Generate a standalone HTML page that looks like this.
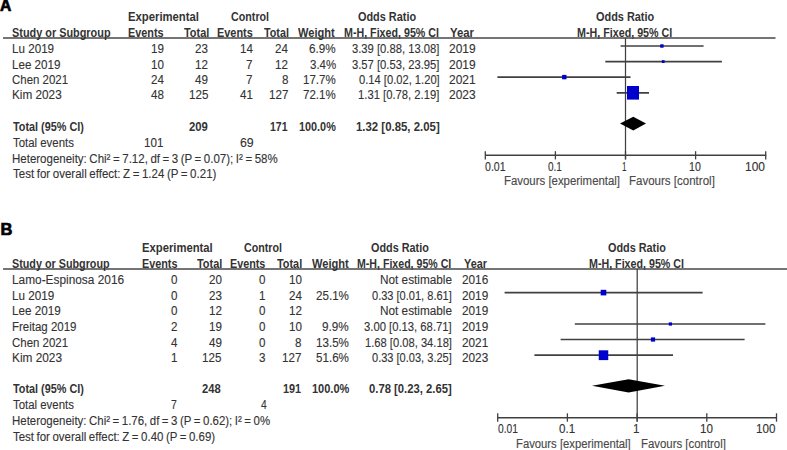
<!DOCTYPE html>
<html><head><meta charset="utf-8"><style>
html,body{margin:0;padding:0;background:#fff;}
body{width:787px;height:450px;position:relative;overflow:hidden;font-family:"Liberation Sans",sans-serif;}
.t{position:absolute;white-space:nowrap;line-height:15px;font-size:12.5px;color:#333333;transform-origin:0 0;-webkit-text-stroke:0.12px #333333;}
.l{position:absolute;}
</style></head><body>
<svg class="l" style="left:0;top:0" width="787" height="450">
<line x1="3.00" y1="38.00" x2="775.50" y2="38.00" stroke="#474747" stroke-width="1.7"/>
<line x1="625.50" y1="38.00" x2="625.50" y2="159.50" stroke="#404040" stroke-width="1.25"/>
<line x1="485.00" y1="155.30" x2="766.20" y2="155.30" stroke="#404040" stroke-width="1.5"/>
<line x1="485.30" y1="151.20" x2="485.30" y2="159.40" stroke="#404040" stroke-width="1.3"/>
<line x1="555.40" y1="151.20" x2="555.40" y2="159.40" stroke="#404040" stroke-width="1.3"/>
<line x1="625.50" y1="151.20" x2="625.50" y2="159.40" stroke="#404040" stroke-width="1.3"/>
<line x1="695.60" y1="151.20" x2="695.60" y2="159.40" stroke="#404040" stroke-width="1.3"/>
<line x1="765.70" y1="151.20" x2="765.70" y2="159.40" stroke="#404040" stroke-width="1.3"/>
<line x1="620.60" y1="46.00" x2="703.60" y2="46.00" stroke="#404040" stroke-width="1.7"/>
<line x1="605.30" y1="61.60" x2="721.90" y2="61.60" stroke="#404040" stroke-width="1.7"/>
<line x1="497.40" y1="77.10" x2="630.50" y2="77.10" stroke="#404040" stroke-width="1.7"/>
<line x1="616.70" y1="92.80" x2="649.00" y2="92.80" stroke="#404040" stroke-width="1.7"/>
<rect x="660.20" y="44.30" width="3.40" height="3.40" fill="#0000cc"/>
<rect x="661.80" y="60.20" width="2.80" height="2.80" fill="#0000cc"/>
<rect x="562.10" y="74.90" width="4.40" height="4.40" fill="#0000cc"/>
<rect x="627.00" y="86.00" width="12.00" height="13.60" fill="#0000cc"/>
<polygon points="620.00,123.6 633.30,116.75 646.00,123.6 633.30,130.45" fill="#000"/>
<line x1="3.00" y1="269.00" x2="787.00" y2="269.00" stroke="#474747" stroke-width="1.7"/>
<line x1="637.20" y1="269.10" x2="637.20" y2="421.60" stroke="#404040" stroke-width="1.25"/>
<line x1="497.50" y1="417.70" x2="776.60" y2="417.70" stroke="#404040" stroke-width="1.5"/>
<line x1="497.70" y1="413.30" x2="497.70" y2="421.70" stroke="#404040" stroke-width="1.3"/>
<line x1="567.40" y1="413.30" x2="567.40" y2="421.70" stroke="#404040" stroke-width="1.3"/>
<line x1="637.10" y1="413.30" x2="637.10" y2="421.70" stroke="#404040" stroke-width="1.3"/>
<line x1="706.80" y1="413.30" x2="706.80" y2="421.70" stroke="#404040" stroke-width="1.3"/>
<line x1="776.50" y1="413.30" x2="776.50" y2="421.70" stroke="#404040" stroke-width="1.3"/>
<line x1="504.60" y1="292.60" x2="702.60" y2="292.60" stroke="#404040" stroke-width="1.7"/>
<line x1="574.80" y1="324.00" x2="765.40" y2="324.00" stroke="#404040" stroke-width="1.7"/>
<line x1="560.60" y1="339.50" x2="744.60" y2="339.50" stroke="#404040" stroke-width="1.7"/>
<line x1="534.40" y1="355.20" x2="673.00" y2="355.20" stroke="#404040" stroke-width="1.7"/>
<rect x="600.70" y="289.80" width="5.60" height="5.60" fill="#0000cc"/>
<rect x="668.80" y="322.40" width="3.20" height="3.20" fill="#0000cc"/>
<rect x="650.90" y="337.40" width="4.20" height="4.20" fill="#0000cc"/>
<rect x="598.75" y="350.30" width="9.50" height="9.80" fill="#0000cc"/>
<polygon points="592.00,385.8 628.60,379.2 665.00,385.8 628.60,392.40000000000003" fill="#000"/>
</svg>
<div class="t" style="left:0.30px;top:-2.39px;font-weight:bold;font-size:16.5px;color:#000;transform:scaleX(0.9500);-webkit-text-stroke:0.7px #000">A</div>
<div class="t" style="left:128.20px;top:10.30px;font-weight:bold;-webkit-text-stroke:0;transform:scaleX(0.9039);">Experimental</div>
<div class="t" style="left:230.50px;top:10.30px;font-weight:bold;-webkit-text-stroke:0;transform:scaleX(0.8568);">Control</div>
<div class="t" style="left:358.00px;top:10.30px;font-weight:bold;-webkit-text-stroke:0;transform:scaleX(0.8712);">Odds Ratio</div>
<div class="t" style="left:595.70px;top:10.30px;font-weight:bold;-webkit-text-stroke:0;transform:scaleX(0.8727);">Odds Ratio</div>
<div class="t" style="left:11.63px;top:25.90px;font-weight:bold;-webkit-text-stroke:0;transform:scaleX(0.8705);">Study or Subgroup</div>
<div class="t" style="left:128.23px;top:25.90px;font-weight:bold;-webkit-text-stroke:0;transform:scaleX(0.8675);">Events</div>
<div class="t" style="left:183.50px;top:25.90px;font-weight:bold;-webkit-text-stroke:0;transform:scaleX(0.8750);">Total</div>
<div class="t" style="left:216.93px;top:25.90px;font-weight:bold;-webkit-text-stroke:0;transform:scaleX(0.8725);">Events</div>
<div class="t" style="left:264.20px;top:25.90px;font-weight:bold;-webkit-text-stroke:0;transform:scaleX(0.8607);">Total</div>
<div class="t" style="left:298.30px;top:25.90px;font-weight:bold;-webkit-text-stroke:0;transform:scaleX(0.8854);">Weight</div>
<div class="t" style="left:343.95px;top:25.90px;font-weight:bold;-webkit-text-stroke:0;transform:scaleX(0.8545);">M-H, Fixed, 95% CI</div>
<div class="t" style="left:450.00px;top:25.90px;font-weight:bold;-webkit-text-stroke:0;transform:scaleX(0.9077);">Year</div>
<div class="t" style="left:577.14px;top:25.90px;font-weight:bold;-webkit-text-stroke:0;transform:scaleX(0.8573);">M-H, Fixed, 95% CI</div>
<div class="t" style="left:12.07px;top:42.00px;transform:scaleX(0.9318);">Lu 2019</div>
<div class="t" style="left:151.38px;top:42.00px;transform:scaleX(0.9300);">19</div>
<div class="t" style="left:195.18px;top:42.00px;transform:scaleX(0.9300);">23</div>
<div class="t" style="left:239.68px;top:42.00px;transform:scaleX(0.9300);">14</div>
<div class="t" style="left:275.18px;top:42.00px;transform:scaleX(0.9300);">24</div>
<div class="t" style="left:309.27px;top:42.00px;transform:scaleX(0.9333);">6.9%</div>
<div class="t" style="left:351.70px;top:42.00px;transform:scaleX(0.8990);">3.39 [0.88, 13.08]</div>
<div class="t" style="left:448.94px;top:42.00px;transform:scaleX(0.9577);">2019</div>
<div class="t" style="left:12.07px;top:57.50px;transform:scaleX(0.9294);">Lee 2019</div>
<div class="t" style="left:151.38px;top:57.50px;transform:scaleX(0.9300);">10</div>
<div class="t" style="left:195.18px;top:57.50px;transform:scaleX(0.9300);">12</div>
<div class="t" style="left:246.19px;top:57.50px;transform:scaleX(0.9300);">7</div>
<div class="t" style="left:275.18px;top:57.50px;transform:scaleX(0.9300);">12</div>
<div class="t" style="left:309.68px;top:57.50px;transform:scaleX(0.9185);">3.4%</div>
<div class="t" style="left:351.70px;top:57.50px;transform:scaleX(0.8990);">3.57 [0.53, 23.95]</div>
<div class="t" style="left:448.94px;top:57.50px;transform:scaleX(0.9577);">2019</div>
<div class="t" style="left:12.08px;top:72.90px;transform:scaleX(0.9167);">Chen 2021</div>
<div class="t" style="left:151.38px;top:72.90px;transform:scaleX(0.9300);">24</div>
<div class="t" style="left:195.18px;top:72.90px;transform:scaleX(0.9300);">49</div>
<div class="t" style="left:246.19px;top:72.90px;transform:scaleX(0.9300);">7</div>
<div class="t" style="left:281.69px;top:72.90px;transform:scaleX(0.9300);">8</div>
<div class="t" style="left:303.18px;top:72.90px;transform:scaleX(0.9206);">17.7%</div>
<div class="t" style="left:358.50px;top:72.90px;transform:scaleX(0.8933);">0.14 [0.02, 1.20]</div>
<div class="t" style="left:448.94px;top:72.90px;transform:scaleX(0.9577);">2021</div>
<div class="t" style="left:12.06px;top:88.40px;transform:scaleX(0.9412);">Kim 2023</div>
<div class="t" style="left:151.38px;top:88.40px;transform:scaleX(0.9300);">48</div>
<div class="t" style="left:188.67px;top:88.40px;transform:scaleX(0.9300);">125</div>
<div class="t" style="left:239.68px;top:88.40px;transform:scaleX(0.9300);">41</div>
<div class="t" style="left:268.67px;top:88.40px;transform:scaleX(0.9300);">127</div>
<div class="t" style="left:303.18px;top:88.40px;transform:scaleX(0.9206);">72.1%</div>
<div class="t" style="left:357.90px;top:88.40px;transform:scaleX(0.9000);">1.31 [0.78, 2.19]</div>
<div class="t" style="left:448.94px;top:88.40px;transform:scaleX(0.9577);">2023</div>
<div class="t" style="left:12.80px;top:119.50px;font-weight:bold;-webkit-text-stroke:0;transform:scaleX(0.8667);">Total (95% CI)</div>
<div class="t" style="left:189.00px;top:119.50px;font-weight:bold;-webkit-text-stroke:0;transform:scaleX(0.9048);">209</div>
<div class="t" style="left:270.16px;top:119.50px;font-weight:bold;-webkit-text-stroke:0;transform:scaleX(0.8400);">171</div>
<div class="t" style="left:298.93px;top:119.50px;font-weight:bold;-webkit-text-stroke:0;transform:scaleX(0.8683);">100.0%</div>
<div class="t" style="left:355.79px;top:119.50px;font-weight:bold;-webkit-text-stroke:0;transform:scaleX(0.9122);">1.32 [0.85, 2.05]</div>
<div class="t" style="left:13.00px;top:135.80px;transform:scaleX(0.9121);">Total events</div>
<div class="t" style="left:143.97px;top:135.80px;transform:scaleX(0.9300);">101</div>
<div class="t" style="left:239.52px;top:135.80px;transform:scaleX(0.9846);">69</div>
<div class="t" style="left:12.08px;top:152.10px;transform:scaleX(0.9201);word-spacing:-0.7px;">Heterogeneity: Chi² = 7.12, df = 3 (P = 0.07); I² = 58%</div>
<div class="t" style="left:13.00px;top:167.20px;transform:scaleX(0.9227);word-spacing:-0.7px;">Test for overall effect: Z = 1.24 (P = 0.21)</div>
<div class="t" style="left:485.10px;top:159.50px;transform:scaleX(0.8458);">0.01</div>
<div class="t" style="left:547.90px;top:159.50px;transform:scaleX(0.8000);">0.1</div>
<div class="t" style="left:621.85px;top:159.50px;transform:scaleX(0.6500);">1</div>
<div class="t" style="left:689.15px;top:159.50px;transform:scaleX(0.8462);">10</div>
<div class="t" style="left:745.25px;top:159.50px;transform:scaleX(0.9550);">100</div>
<div class="t" style="left:504.09px;top:174.30px;color:#4a4a4a;transform:scaleX(0.9127);-webkit-text-stroke:0.15px #4a4a4a">Favours [experimental]</div>
<div class="t" style="left:628.58px;top:174.30px;color:#4a4a4a;transform:scaleX(0.9220);-webkit-text-stroke:0.15px #4a4a4a">Favours [control]</div>
<div class="t" style="left:0.40px;top:221.81px;font-weight:bold;font-size:16.5px;color:#000;transform:scaleX(1.0000);-webkit-text-stroke:0.7px #000">B</div>
<div class="t" style="left:141.80px;top:241.40px;font-weight:bold;-webkit-text-stroke:0;transform:scaleX(0.9000);">Experimental</div>
<div class="t" style="left:243.60px;top:241.40px;font-weight:bold;-webkit-text-stroke:0;transform:scaleX(0.8545);">Control</div>
<div class="t" style="left:371.30px;top:241.40px;font-weight:bold;-webkit-text-stroke:0;transform:scaleX(0.8667);">Odds Ratio</div>
<div class="t" style="left:608.00px;top:241.40px;font-weight:bold;-webkit-text-stroke:0;transform:scaleX(0.8682);">Odds Ratio</div>
<div class="t" style="left:11.74px;top:257.10px;font-weight:bold;-webkit-text-stroke:0;transform:scaleX(0.8625);">Study or Subgroup</div>
<div class="t" style="left:141.83px;top:257.10px;font-weight:bold;-webkit-text-stroke:0;transform:scaleX(0.8650);">Events</div>
<div class="t" style="left:197.00px;top:257.10px;font-weight:bold;-webkit-text-stroke:0;transform:scaleX(0.8750);">Total</div>
<div class="t" style="left:230.14px;top:257.10px;font-weight:bold;-webkit-text-stroke:0;transform:scaleX(0.8625);">Events</div>
<div class="t" style="left:277.14px;top:257.10px;font-weight:bold;-webkit-text-stroke:0;transform:scaleX(0.8700);">Total</div>
<div class="t" style="left:311.60px;top:257.10px;font-weight:bold;-webkit-text-stroke:0;transform:scaleX(0.8878);">Weight</div>
<div class="t" style="left:357.25px;top:257.10px;font-weight:bold;-webkit-text-stroke:0;transform:scaleX(0.8482);">M-H, Fixed, 95% CI</div>
<div class="t" style="left:463.60px;top:257.10px;font-weight:bold;-webkit-text-stroke:0;transform:scaleX(0.8692);">Year</div>
<div class="t" style="left:589.15px;top:257.10px;font-weight:bold;-webkit-text-stroke:0;transform:scaleX(0.8545);">M-H, Fixed, 95% CI</div>
<div class="t" style="left:11.85px;top:272.90px;transform:scaleX(0.9487);">Lamo-Espinosa 2016</div>
<div class="t" style="left:171.29px;top:272.90px;transform:scaleX(0.9300);">0</div>
<div class="t" style="left:208.58px;top:272.90px;transform:scaleX(0.9300);">20</div>
<div class="t" style="left:259.49px;top:272.90px;transform:scaleX(0.9300);">0</div>
<div class="t" style="left:288.58px;top:272.90px;transform:scaleX(0.9300);">10</div>
<div class="t" style="left:379.96px;top:272.90px;transform:scaleX(0.9427);">Not estimable</div>
<div class="t" style="left:461.56px;top:272.90px;transform:scaleX(0.9423);">2016</div>
<div class="t" style="left:11.86px;top:288.70px;transform:scaleX(0.9364);">Lu 2019</div>
<div class="t" style="left:171.29px;top:288.70px;transform:scaleX(0.9300);">0</div>
<div class="t" style="left:208.58px;top:288.70px;transform:scaleX(0.9300);">23</div>
<div class="t" style="left:259.49px;top:288.70px;transform:scaleX(0.9300);">1</div>
<div class="t" style="left:288.58px;top:288.70px;transform:scaleX(0.9300);">24</div>
<div class="t" style="left:315.67px;top:288.70px;transform:scaleX(0.9294);">25.1%</div>
<div class="t" style="left:372.10px;top:288.70px;transform:scaleX(0.8833);">0.33 [0.01, 8.61]</div>
<div class="t" style="left:461.56px;top:288.70px;transform:scaleX(0.9423);">2019</div>
<div class="t" style="left:11.87px;top:304.30px;transform:scaleX(0.9333);">Lee 2019</div>
<div class="t" style="left:171.29px;top:304.30px;transform:scaleX(0.9300);">0</div>
<div class="t" style="left:208.58px;top:304.30px;transform:scaleX(0.9300);">12</div>
<div class="t" style="left:259.49px;top:304.30px;transform:scaleX(0.9300);">0</div>
<div class="t" style="left:288.58px;top:304.30px;transform:scaleX(0.9300);">12</div>
<div class="t" style="left:379.96px;top:304.30px;transform:scaleX(0.9427);">Not estimable</div>
<div class="t" style="left:461.56px;top:304.30px;transform:scaleX(0.9423);">2019</div>
<div class="t" style="left:11.88px;top:320.00px;transform:scaleX(0.9188);">Freitag 2019</div>
<div class="t" style="left:171.29px;top:320.00px;transform:scaleX(0.9300);">2</div>
<div class="t" style="left:208.58px;top:320.00px;transform:scaleX(0.9300);">19</div>
<div class="t" style="left:259.49px;top:320.00px;transform:scaleX(0.9300);">0</div>
<div class="t" style="left:288.58px;top:320.00px;transform:scaleX(0.9300);">10</div>
<div class="t" style="left:321.96px;top:320.00px;transform:scaleX(0.9370);">9.9%</div>
<div class="t" style="left:364.20px;top:320.00px;transform:scaleX(0.9010);">3.00 [0.13, 68.71]</div>
<div class="t" style="left:461.56px;top:320.00px;transform:scaleX(0.9423);">2019</div>
<div class="t" style="left:11.88px;top:335.70px;transform:scaleX(0.9167);">Chen 2021</div>
<div class="t" style="left:171.29px;top:335.70px;transform:scaleX(0.9300);">4</div>
<div class="t" style="left:208.58px;top:335.70px;transform:scaleX(0.9300);">49</div>
<div class="t" style="left:259.49px;top:335.70px;transform:scaleX(0.9300);">0</div>
<div class="t" style="left:295.09px;top:335.70px;transform:scaleX(0.9300);">8</div>
<div class="t" style="left:315.67px;top:335.70px;transform:scaleX(0.9294);">13.5%</div>
<div class="t" style="left:364.91px;top:335.70px;transform:scaleX(0.8938);">1.68 [0.08, 34.18]</div>
<div class="t" style="left:461.56px;top:335.70px;transform:scaleX(0.9423);">2021</div>
<div class="t" style="left:11.85px;top:351.10px;transform:scaleX(0.9471);">Kim 2023</div>
<div class="t" style="left:171.29px;top:351.10px;transform:scaleX(0.9300);">1</div>
<div class="t" style="left:202.07px;top:351.10px;transform:scaleX(0.9300);">125</div>
<div class="t" style="left:259.49px;top:351.10px;transform:scaleX(0.9300);">3</div>
<div class="t" style="left:282.07px;top:351.10px;transform:scaleX(0.9300);">127</div>
<div class="t" style="left:315.67px;top:351.10px;transform:scaleX(0.9294);">51.6%</div>
<div class="t" style="left:372.10px;top:351.10px;transform:scaleX(0.8833);">0.33 [0.03, 3.25]</div>
<div class="t" style="left:461.56px;top:351.10px;transform:scaleX(0.9423);">2023</div>
<div class="t" style="left:12.80px;top:381.80px;font-weight:bold;-webkit-text-stroke:0;transform:scaleX(0.8667);">Total (95% CI)</div>
<div class="t" style="left:202.40px;top:381.80px;font-weight:bold;-webkit-text-stroke:0;transform:scaleX(0.8952);">248</div>
<div class="t" style="left:283.23px;top:381.80px;font-weight:bold;-webkit-text-stroke:0;transform:scaleX(0.8700);">191</div>
<div class="t" style="left:311.52px;top:381.80px;font-weight:bold;-webkit-text-stroke:0;transform:scaleX(0.8805);">100.0%</div>
<div class="t" style="left:369.30px;top:381.80px;font-weight:bold;-webkit-text-stroke:0;transform:scaleX(0.9022);">0.78 [0.23, 2.65]</div>
<div class="t" style="left:13.00px;top:398.20px;transform:scaleX(0.9121);">Total events</div>
<div class="t" style="left:171.17px;top:398.20px;transform:scaleX(0.8333);">7</div>
<div class="t" style="left:260.70px;top:398.20px;transform:scaleX(0.8286);">4</div>
<div class="t" style="left:12.08px;top:414.30px;transform:scaleX(0.9160);word-spacing:-0.7px;">Heterogeneity: Chi² = 1.76, df = 3 (P = 0.62); I² = 0%</div>
<div class="t" style="left:13.00px;top:429.50px;transform:scaleX(0.9168);word-spacing:-0.7px;">Test for overall effect: Z = 0.40 (P = 0.69)</div>
<div class="t" style="left:497.60px;top:421.50px;transform:scaleX(0.8208);">0.01</div>
<div class="t" style="left:559.39px;top:421.50px;transform:scaleX(0.9300);">0.1</div>
<div class="t" style="left:632.88px;top:421.50px;transform:scaleX(0.9300);">1</div>
<div class="t" style="left:700.02px;top:421.50px;transform:scaleX(0.9300);">10</div>
<div class="t" style="left:756.47px;top:421.50px;transform:scaleX(0.9300);">100</div>
<div class="t" style="left:516.40px;top:436.70px;color:#4a4a4a;transform:scaleX(0.9024);-webkit-text-stroke:0.15px #4a4a4a">Favours [experimental]</div>
<div class="t" style="left:641.09px;top:436.70px;color:#4a4a4a;transform:scaleX(0.9121);-webkit-text-stroke:0.15px #4a4a4a">Favours [control]</div>
</body></html>
